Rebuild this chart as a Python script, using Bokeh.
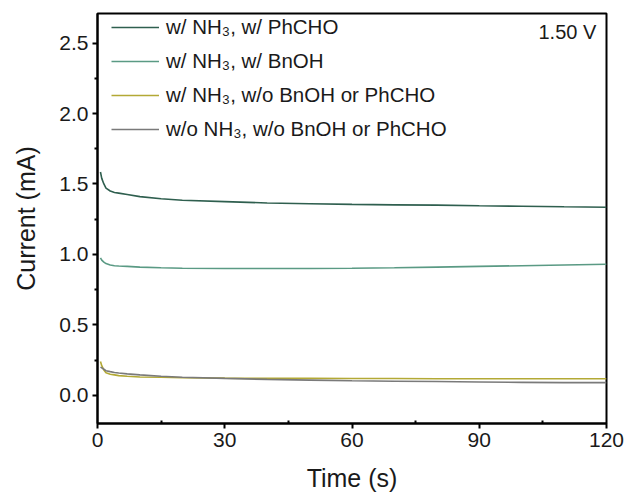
from bokeh.plotting import figure
from bokeh.models import Range1d, Legend, LegendItem, Label, FixedTicker, CustomJSTickFormatter
from bokeh.embed import file_html
from bokeh.resources import INLINE

# ---- data ----
time_s = [0.7, 1, 1.5, 2, 3, 4, 5, 7, 10, 15, 20, 30, 40, 50, 60, 70, 80, 90, 100, 110, 120]
nh3_phcho = [1.585, 1.54, 1.50, 1.47, 1.45, 1.44, 1.435, 1.425, 1.41, 1.395, 1.385, 1.375,
             1.365, 1.36, 1.355, 1.352, 1.35, 1.345, 1.342, 1.338, 1.335]
nh3_bnoh = [0.975, 0.96, 0.945, 0.935, 0.925, 0.92, 0.918, 0.915, 0.91, 0.905, 0.902, 0.90,
            0.90, 0.90, 0.902, 0.905, 0.91, 0.915, 0.92, 0.925, 0.93]
nh3_none = [0.24, 0.21, 0.18, 0.16, 0.15, 0.145, 0.14, 0.135, 0.13, 0.128, 0.125, 0.122,
            0.12, 0.12, 0.119, 0.119, 0.118, 0.118, 0.118, 0.118, 0.118]
no_nh3_none = [0.20, 0.195, 0.185, 0.175, 0.168, 0.162, 0.158, 0.152, 0.145, 0.135, 0.128, 0.12,
               0.113, 0.108, 0.103, 0.10, 0.098, 0.095, 0.092, 0.09, 0.09]
labels = ["w/ NH\u2083, w/ PhCHO", "w/ NH\u2083, w/ BnOH",
          "w/ NH\u2083, w/o BnOH or PhCHO", "w/o NH\u2083, w/o BnOH or PhCHO"]
colors = ["#2f5f4f", "#5a9a84", "#b3a935", "#7a7a7a"]
x_ticks = [0, 30, 60, 90, 120]
y_ticks = [0.0, 0.5, 1.0, 1.5, 2.0, 2.5]
potential_label = "1.50 V"

FONT = "Liberation Sans"

p = figure(width=628, height=495, output_backend="svg", toolbar_location=None,
           x_range=Range1d(0, 120), y_range=Range1d(-0.2, 2.71),
           min_border_left=97, min_border_right=22, min_border_top=13, min_border_bottom=72)
p.xgrid.visible = False
p.ygrid.visible = False
p.outline_line_color = "black"
p.outline_line_width = 2
p.background_fill_color = "white"
p.border_fill_color = "white"

series = [nh3_phcho, nh3_bnoh, nh3_none, no_nh3_none]
renderers = []
for ys, c in zip(series, colors):
    r = p.line(time_s, ys, line_color=c, line_width=1.6)
    renderers.append(r)

# axes
for ax in (p.xaxis[0], p.yaxis[0]):
    ax.axis_line_width = 2
    ax.major_tick_line_width = 2
    ax.minor_tick_line_width = 2
    ax.major_tick_out = 5
    ax.major_tick_in = 0
    ax.major_label_text_font = FONT
    ax.major_label_text_font_size = "21px"
    ax.major_label_text_color = "#1a1a1a"
    ax.axis_label_text_font = FONT
    ax.axis_label_text_font_size = "25px"
    ax.axis_label_text_font_style = "normal"
    ax.axis_label_text_color = "#1a1a1a"

p.xaxis.ticker = FixedTicker(ticks=x_ticks, minor_ticks=[15, 45, 75, 105])
p.yaxis.ticker = FixedTicker(ticks=y_ticks, minor_ticks=[-0.25, 0.25, 0.75, 1.25, 1.75, 2.25])
p.xaxis.minor_tick_in = 3
p.xaxis.minor_tick_out = 0
p.yaxis.minor_tick_in = 0
p.yaxis.minor_tick_out = 3
p.xaxis.major_label_standoff = 4
p.yaxis.major_label_standoff = 4
p.xaxis.axis_label = "Time (s)"
p.yaxis.axis_label = "Current (mA)"
p.xaxis.axis_label_standoff = 14
p.yaxis.axis_label_standoff = 16
p.yaxis.formatter = CustomJSTickFormatter(code="return tick.toFixed(1);")

legend = Legend(items=[LegendItem(label=l, renderers=[r]) for l, r in zip(labels, renderers)],
                location=(14, 282), border_line_alpha=0, background_fill_alpha=0,
                padding=0, margin=0, spacing=10, label_height=22, glyph_height=22,
                glyph_width=48, label_standoff=7,
                label_text_font=FONT, label_text_font_size="20.5px", label_text_color="#1a1a1a")
p.add_layout(legend)

p.add_layout(Label(x=117.6, y=2.578, text=potential_label, text_align="right",
                   text_baseline="middle", text_font=FONT, text_font_size="20px",
                   text_color="#1a1a1a"))

open("out.html", "w").write(file_html(p, INLINE))
